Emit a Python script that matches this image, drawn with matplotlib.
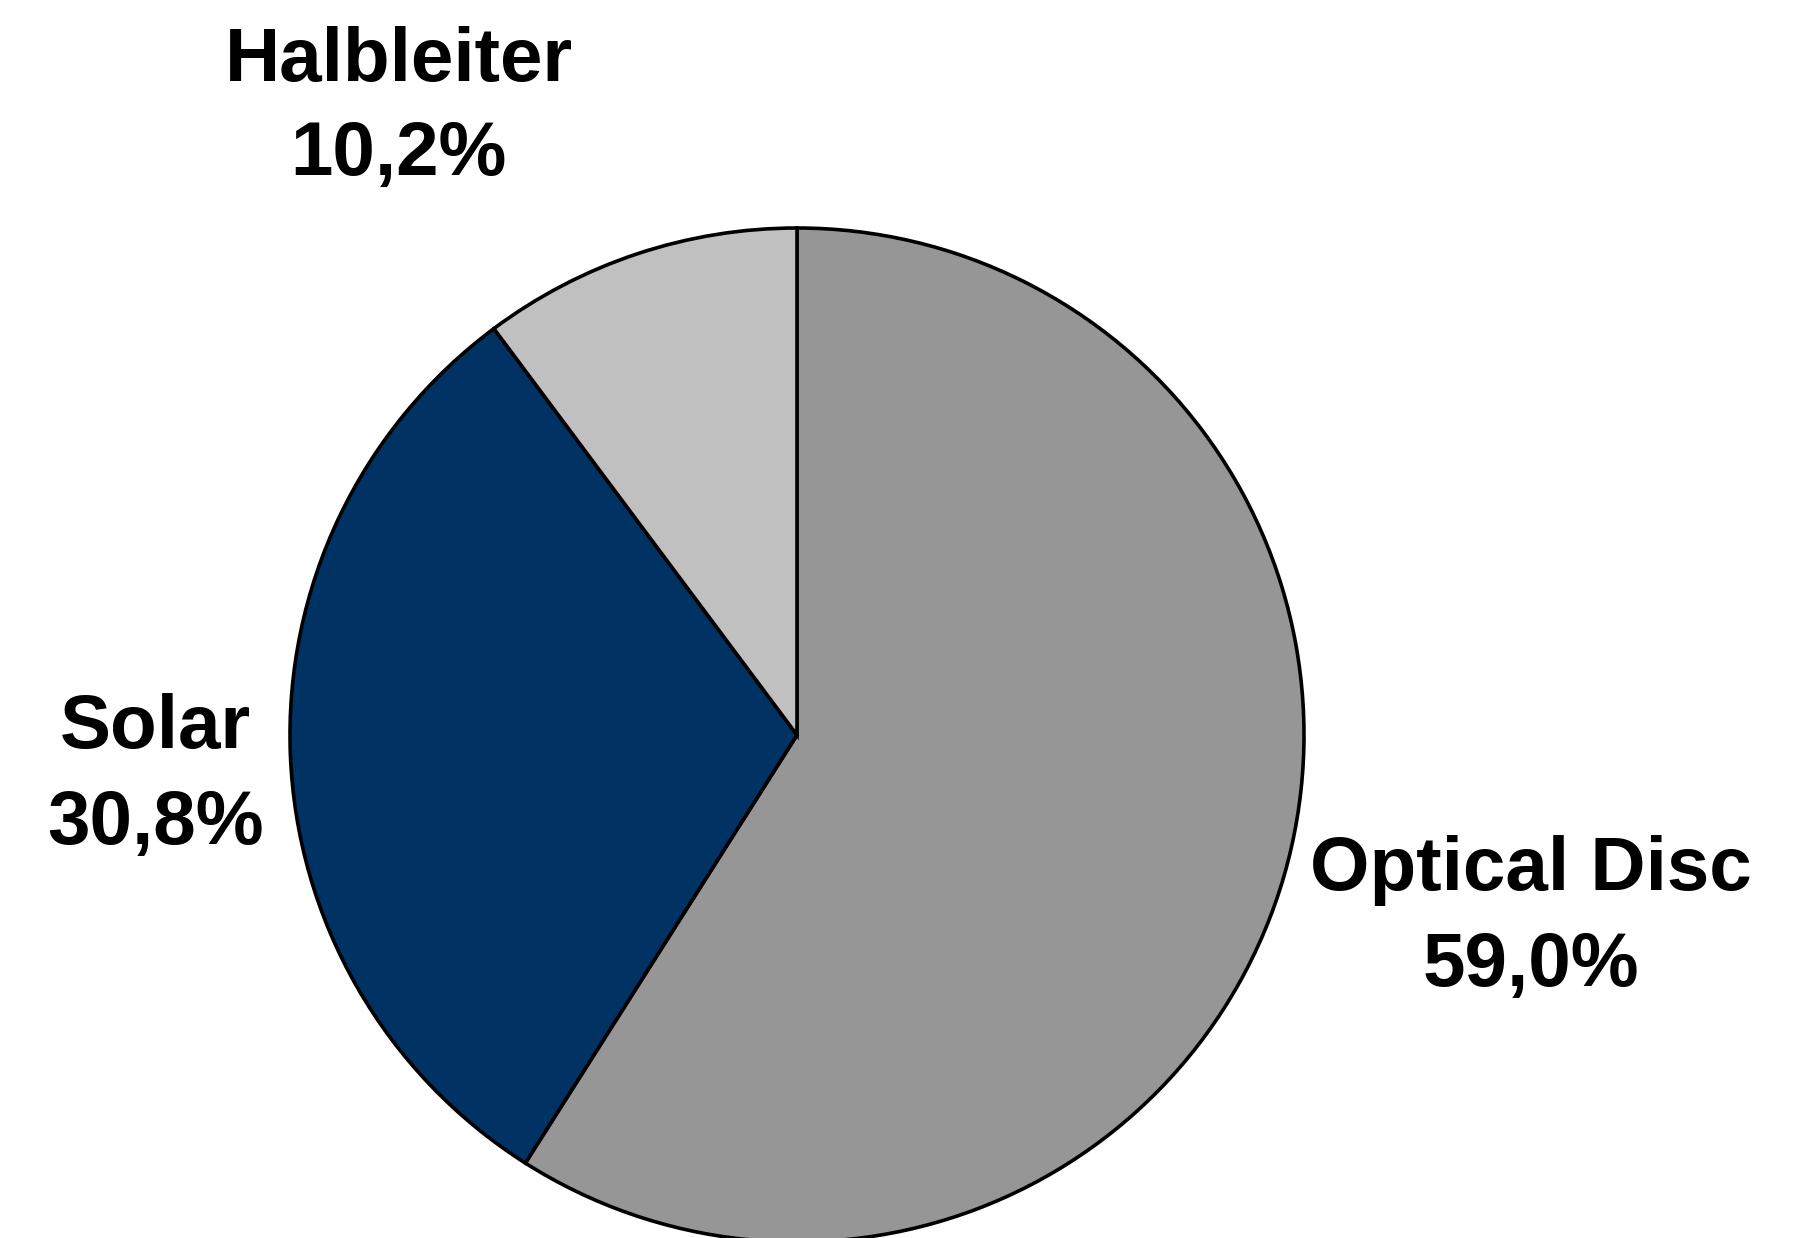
import matplotlib
matplotlib.use("Agg")
import matplotlib.pyplot as plt

categories = ["Optical Disc", "Solar", "Halbleiter"]
values = [59.0, 30.8, 10.2]
colors = ["#969696", "#003263", "#C0C0C0"]

# label anchor positions (in units of pie radius, relative to pie centre)
label_x = [1.447, -1.265, -0.786]
name_y = [-0.306, -0.025, 1.290]
pct_y = [-0.496, -0.215, 1.104]

W, H = 1811, 1238
fig = plt.figure(figsize=(W / 100, H / 100), dpi=100)
ax = fig.add_axes([0, 0, 1, 1])

cx, cy, R = 797, 735, 507
ax.pie(values, colors=colors, startangle=90, counterclock=False, radius=1,
       wedgeprops=dict(edgecolor="black", linewidth=2.6))
ax.set_aspect("auto")
ax.set_xlim(-cx / R, (W - cx) / R)
ax.set_ylim(-(H - cy) / R, cy / R)
ax.axis("off")

font = dict(family=["Liberation Sans", "DejaVu Sans"], fontweight="bold",
            fontsize=55, color="black", ha="center", va="baseline")
for name, v, x, y1, y2 in zip(categories, values, label_x, name_y, pct_y):
    ax.text(x, y1, name, **font)
    ax.text(x, y2, f"{v:.1f}".replace(".", ",") + "%", **font)

fig.savefig("out.png", dpi=100, facecolor="white")
